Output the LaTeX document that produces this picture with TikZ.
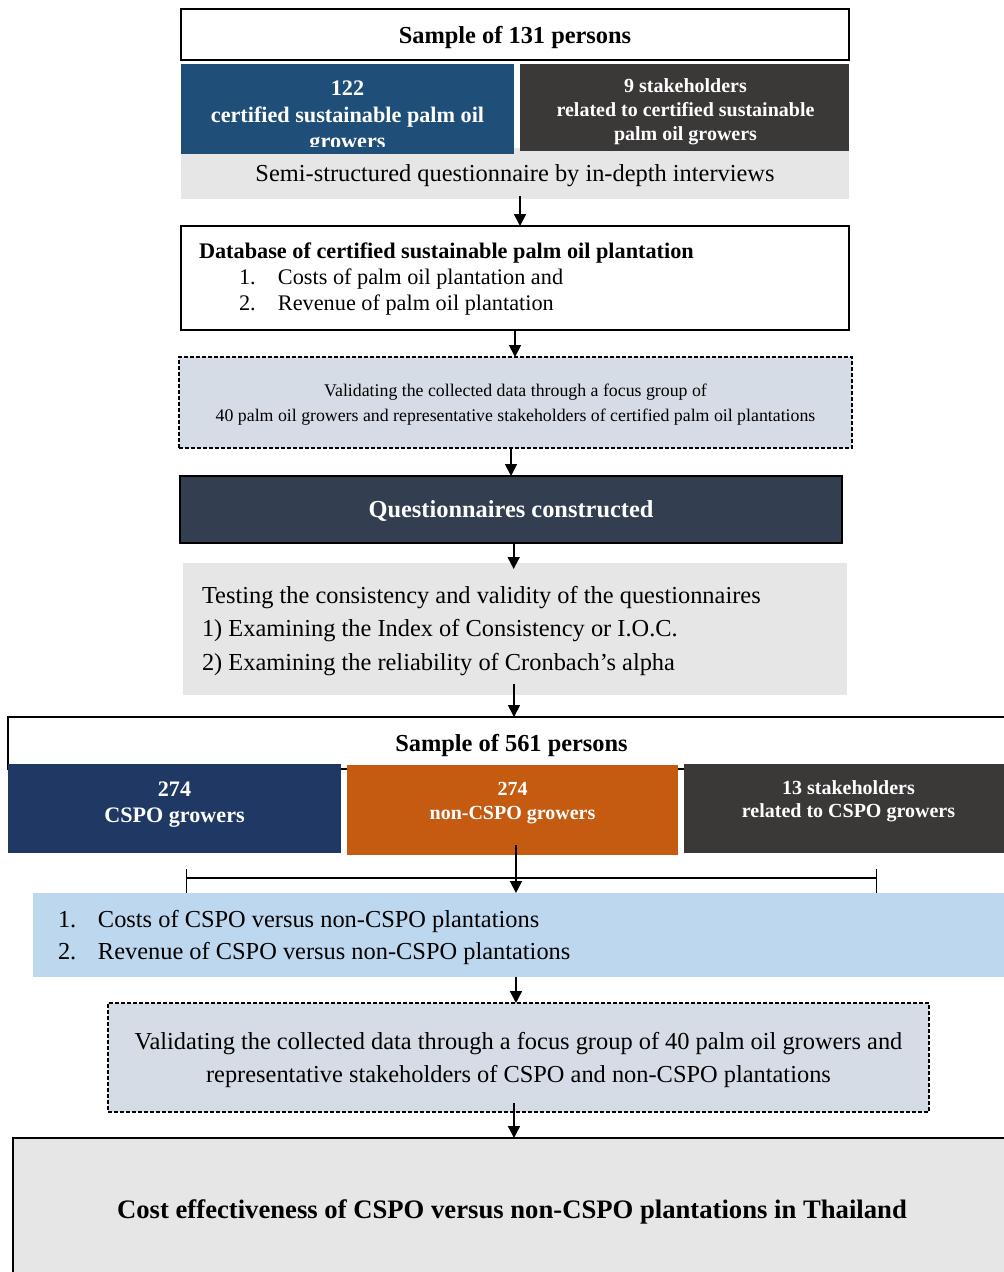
\documentclass[tikz,border=0pt]{standalone}
\usepackage{fontspec}
\setmainfont{Liberation Serif}
\usepackage{tikz}
\usetikzlibrary{arrows.meta}
\usetikzlibrary{positioning,calc}
\definecolor{capblue}{HTML}{1F4E79}
\definecolor{stakegray}{HTML}{3B3838}
\definecolor{lightgray}{HTML}{E7E6E6}
\definecolor{focusblue}{HTML}{D6DCE5}
\definecolor{slatenavy}{HTML}{333F50}
\definecolor{cspoblue}{HTML}{203864}
\definecolor{burnt}{HTML}{C55A11}
\definecolor{paleblue}{HTML}{BDD7EE}
\tikzstyle{flowline} = [draw, -{Triangle[length=9pt,width=9pt]}, line width=1.3pt]
\tikzstyle{flowbox} = [rectangle, inner sep=0pt, outer sep=0pt, align=center, text depth=0pt]
\tikzstyle{txt} = [inner sep=0pt, outer sep=0pt, align=left]
\tikzstyle{dashbox} = [draw, line width=1.2pt, dash pattern=on 3pt off 1.5pt, fill=focusblue]
\newcommand{\mainsize}{\fontsize{18.3}{25.1}\selectfont}

\begin{document}
\begin{tikzpicture}[x=0.75pt,y=-0.75pt]
	\path[use as bounding box] (0,0) rectangle (1004,1272);
	\clip (0,0) rectangle (1004,1272);

	% ------------------- First sample ------------------- %
	\node[flowbox, draw, line width=1.1pt, minimum width=501pt, minimum height=38.25pt, font=\bfseries\mainsize] (s131) at (515,34.5) {Sample of 131 persons};
	\node[flowbox, fill=lightgray, minimum width=501pt, minimum height=38.25pt, font=\mainsize] (semi) at (515,173.5) {Semi-structured questionnaire by in-depth interviews};
	\node[flowbox, fill=capblue, minimum width=249.75pt, minimum height=67.5pt] (grow122) at (347.5,109) {};
	\begin{scope}
		\clip (181,64) rectangle (514,146);
		\node[txt, align=center, text=white, font=\bfseries\fontsize{16.65}{19.9}\selectfont] (grow122txt) at (347.5,117.5) {122\\certified sustainable palm oil\\growers};
	\end{scope}
	\node[flowbox, fill=stakegray, minimum width=246.75pt, minimum height=65.25pt] (stake9) at (684.5,107.5) {};
	\node[txt, align=center, text=white, font=\bfseries\fontsize{15}{18}\selectfont] (stake9txt) at (685.5,112) {9 stakeholders\\related to certified sustainable\\palm oil growers};

	% ------------------- Database ------------------- %
	\node[flowbox, draw, line width=1.1pt, minimum width=501pt, minimum height=78pt] (db) at (515,278) {};
	\node[txt, anchor=west, font=\fontsize{16.7}{19.5}\selectfont] (dbtxt) at (199,279) {\textbf{Database of certified sustainable palm oil plantation}\\
		\hspace*{30pt}\makebox[29.25pt][l]{1.}Costs of palm oil plantation and\\
		\hspace*{30pt}\makebox[29.25pt][l]{2.}Revenue of palm oil plantation};

	\node[flowbox, dashbox, minimum width=504.75pt, minimum height=68.25pt, font=\fontsize{13.35}{18.75}\selectfont] (focus1) at (515.5,402.5) {Validating the collected data through a focus group of\\40 palm oil growers and representative stakeholders of certified palm oil plantations};

	\node[flowbox, draw=black, line width=1.1pt, fill=slatenavy, minimum width=496.5pt, minimum height=50.25pt, text=white, font=\bfseries\mainsize] (quest) at (511,509.5) {Questionnaires constructed};

	\node[flowbox, fill=lightgray, minimum width=498pt, minimum height=99pt] (test) at (515,629) {};
	\node[txt, anchor=west, font=\mainsize] (testtxt) at (202,631) {Testing the consistency and validity of the questionnaires\\
		1) Examining the Index of Consistency or I.O.C.\\
		2) Examining the reliability of Cronbach’s alpha};

	% ------------------- Second sample ------------------- %
	\node[flowbox, draw, line width=1.5pt, minimum width=755.25pt, minimum height=39pt, font=\bfseries\mainsize] (s561) at (511.5,743) {Sample of 561 persons};
	\node[flowbox, fill=cspoblue, minimum width=249.75pt, minimum height=66.75pt] (cspo) at (174.5,808.5) {};
	\node[flowbox, fill=burnt, minimum width=248.25pt, minimum height=67.5pt] (noncspo) at (512.5,810) {};
	\node[flowbox, fill=stakegray, minimum width=248.25pt, minimum height=66.75pt] (stake13) at (849.5,808.5) {};
	\node[txt, align=center, text=white, font=\bfseries\fontsize{16.6}{20}\selectfont] (cspotxt) at (174.5,804.5) {274\\CSPO growers};
	\node[txt, align=center, text=white, font=\bfseries\fontsize{15}{18}\selectfont] (noncspotxt) at (512.5,803) {274\\non-CSPO growers};
	\node[txt, align=center, text=white, font=\bfseries\fontsize{15}{17.25}\selectfont] (stake13txt) at (848.5,801.5) {13 stakeholders\\related to CSPO growers};

	% ------------------- Bracket ------------------- %
	\coordinate (brl) at (186,878);
	\coordinate (brr) at (876,878);
	\draw[line width=0.8pt] (brl) -- (brr);
	\draw[line width=0.6pt] ($(brl)+(0,-9)$) -- ($(brl)+(0,17)$);
	\draw[line width=0.6pt] ($(brr)+(0,-9)$) -- ($(brr)+(0,17)$);

	\node[flowbox, fill=paleblue, minimum width=736.5pt, minimum height=63pt] (costrev) at (524,935) {};
	\node[txt, anchor=west, font=\fontsize{18.3}{24}\selectfont] (costrevtxt) at (58,937) {\makebox[30pt][l]{1.}Costs of CSPO versus non-CSPO plantations\\
		\makebox[30pt][l]{2.}Revenue of CSPO versus non-CSPO plantations};

	\node[flowbox, dashbox, minimum width=615.75pt, minimum height=81.75pt, font=\mainsize] (focus2) at (518.5,1057.5) {Validating the collected data through a focus group of 40 palm oil growers and\\representative stakeholders of CSPO and non-CSPO plantations};

	\node[flowbox, draw, line width=1.1pt, fill=lightgray, minimum width=748.5pt, minimum height=106.5pt, font=\bfseries\fontsize{20}{24}\selectfont] (result) at (512,1209) {Cost effectiveness of CSPO versus non-CSPO plantations in Thailand};

	% ------------------- Arrows ------------------- %
	\draw[flowline] ([xshift=3.75pt,yshift=2pt]semi.south) -- ([xshift=3.75pt]semi.south |- db.north);
	\draw[flowline] (db.south) -- (db.south |- focus1.north);
	\draw[flowline] (quest.north |- focus1.south) -- (quest.north);
	\draw[flowline] ([xshift=2pt]quest.south) -- ([xshift=2pt,yshift=-4.5pt]quest.south |- test.north);
	\draw[flowline] ([xshift=-0.75pt,yshift=8pt]test.south) -- ([xshift=-0.75pt]test.south |- s561.north);
	\draw[flowline] ([xshift=2.6pt,yshift=7.5pt]noncspo.south) -- ([xshift=2.6pt]noncspo.south |- costrev.north);
	\draw[flowline] ([xshift=-1.9pt]focus2.north |- costrev.south) -- ([xshift=-1.9pt]focus2.north);
	\draw[flowline] ([xshift=-3.4pt,yshift=6.5pt]focus2.south) -- ([xshift=-3.4pt]focus2.south |- result.north);
\end{tikzpicture}
\end{document}
